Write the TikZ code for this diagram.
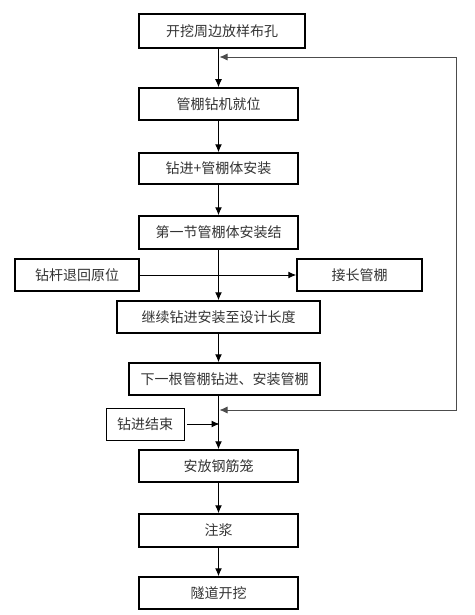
\documentclass[tikz,border=0pt]{standalone}
\usepackage{fontspec}
\newfontfamily\cjk{Noto Sans CJK SC}
\usetikzlibrary{arrows.meta}

\begin{document}
\begin{tikzpicture}[x=1pt,y=-1pt,
    box/.style={draw,line width=1.5pt,inner sep=0pt,minimum height=32pt,
      text=black!80,font=\cjk\fontsize{14}{16}\selectfont},
    flow/.style={line width=1pt,-{Latex[length=8pt,width=7pt]}}]
        \useasboundingbox (0,0) rectangle (474,615);
        % main column, x = 218
        \node[box,minimum width=166pt,minimum height=34pt] (b1) at (222,31) {开挖周边放样布孔};
        \node[box,minimum width=159pt] (b2) at (218.5,104) {管棚钻机就位};
        \node[box,minimum width=159pt,minimum height=31pt] (b3) at (218.5,168.5) {钻进+管棚体安装};
        \node[box,minimum width=159pt,minimum height=33pt] (b4) at (218.5,232.5) {第一节管棚体安装结};
        \node[box,minimum width=124pt] (back) at (77,275) {钻杆退回原位};
        \node[box,minimum width=125pt] (extend) at (359.5,275) {接长管棚};
        \node[box,minimum width=203pt] (b5) at (218.5,317) {继续钻进安装至设计长度};
        \node[box,minimum width=191pt] (b6) at (224.5,379) {下一根管棚钻进、安装管棚};
        \node[box,line width=0.8pt,minimum width=78pt] (done) at (145,424) {钻进结束};
        \node[box,minimum width=159pt] (b7) at (218.5,466) {安放钢筋笼};
        \node[box,minimum width=159pt,minimum height=33pt] (b8) at (218.5,530.5) {注浆};
        \node[box,minimum width=159pt] (b9) at (218.5,593) {隧道开挖};
        % down the column
        \draw[flow] (b1.south -| b2.north) -- (b2.north);
        \draw[flow] (b2) -- (b3);
        \draw[flow] (b3) -- (b4);
        \draw[flow] (b4) -- (b5);
        \draw[flow] (b5.south) -- (b5.south |- b6.north);
        \draw[flow] (b6.south -| b7.north) -- (b7.north);
        \draw[flow] (b7) -- (b8);
        \draw[flow] (b8) -- (b9);
        % side arrows
        \draw[flow] (back.east) -- (extend.west);
        \coordinate (joint) at (b7.north |- done.east);
        \draw[flow] ([xshift=3pt]done.east) -- ([xshift=1pt]joint);
        % loop on the right, x = 456
        \coordinate (topin) at (219.5,57);
        \coordinate (botin) at (219.5,410);
        \coordinate (tr) at (456,57);
        \coordinate (br) at (456,410);
        \draw[black!70,line width=0.8pt,{Latex[length=8pt,width=7pt]}-{Latex[length=8pt,width=7pt]}]
          (topin) -- (tr) -- (br) -- (botin);
\end{tikzpicture}
\end{document}
